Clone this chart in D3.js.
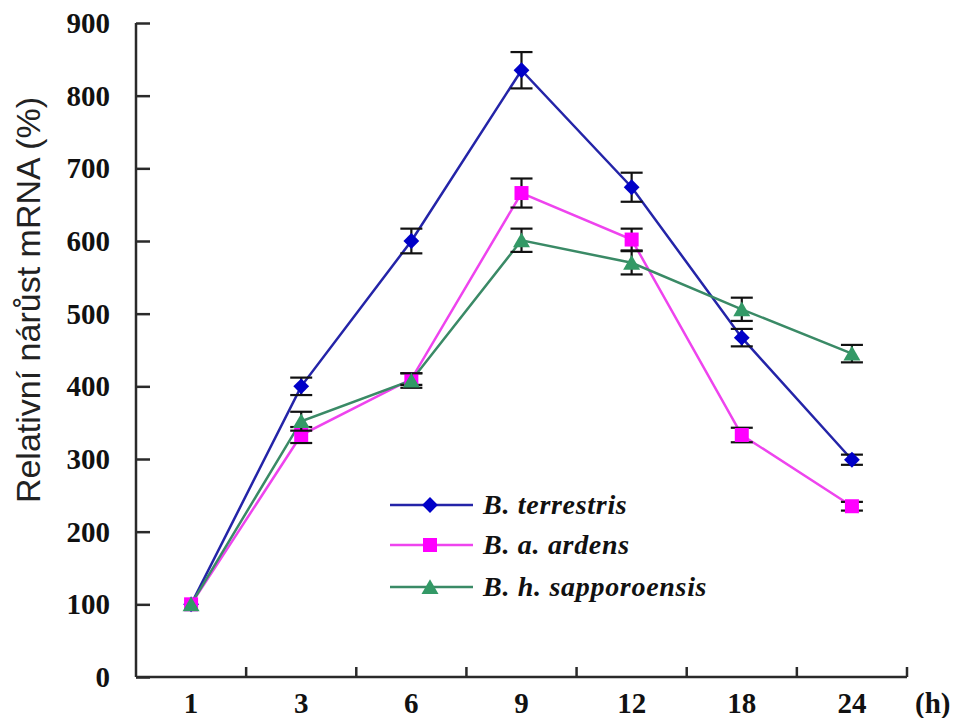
<!DOCTYPE html>
<html>
<head>
<meta charset="utf-8">
<script src="https://cdn.jsdelivr.net/npm/d3@7"></script>
<style>
  body { margin: 0; background: #fff; }
  svg { display: block; }
</style>
</head>
<body>
<div id="plot"></div>
<script>
// Time points (h)
const hours = ["1", "3", "6", "9", "12", "18", "24"];
const yTicks = [0, 100, 200, 300, 400, 500, 600, 700, 800, 900];

// Series values (relative mRNA increase, %)
const terrestris = [100, 400, 600, 835, 674, 467, 299];
const ardens = [100, 333, 410, 666, 602, 333, 235];
const sapporoensis = [100, 352, 408, 601, 570, 506, 445];

// Error bar half-lengths
const terrestrisErr = [0, 12, 17, 25, 20, 12, 7];
const ardensErr = [0, 11, 8, 20, 15, 10, 6];
const sapporoensisErr = [0, 13, 10, 16, 16, 16, 12];

const seriesNames = ["B. terrestris", "B. a. ardens", "B. h. sapporoensis"];

const series = [
    { name: seriesNames[0], values: terrestris, err: terrestrisErr, line: "#2424a8", fill: "#0000c8", shape: "diamond" },
    { name: seriesNames[1], values: ardens, err: ardensErr, line: "#ee44ee", fill: "#ff00ff", shape: "square" },
    { name: seriesNames[2], values: sapporoensis, err: sapporoensisErr, line: "#3a8a66", fill: "#339966", shape: "triangle" }
];

const w = 954;
const h = 718;
const svg = d3.select("#plot")
    .append("svg")
    .attr("width", w)
    .attr("height", h);

//Scales
const x = d3.scaleBand()
    .domain(hours)
    .range([136, 907])
    .padding(0);
const y = d3.scaleLinear()
    .domain([0, 900])
    .range([677, 23]);

const cx = (d) => x(d) + x.bandwidth() / 2;

//Marker shapes
const markerPath = (shape) => {
    if (shape === "diamond") return d3.symbol(d3.symbolSquare, 125)();
    if (shape === "square") return d3.symbol(d3.symbolSquare, 196)();
    return d3.symbol(d3.symbolTriangle, 125)();
};
const markerRotate = (shape) => shape === "diamond" ? " rotate(45)" : "";

//Y axis
const yAxis = svg.append("g")
    .attr("transform", "translate(136,0)")
    .call(d3.axisRight(y).tickValues(yTicks).tickSize(14).tickFormat(""));
yAxis.select(".domain").attr("d", "M0," + y(900) + "V" + y(0));
yAxis.selectAll("path, line").attr("stroke", "#2a2a2a").attr("stroke-width", 2.5);

svg.append("g")
    .selectAll("text")
    .data(yTicks)
    .enter()
    .append("text")
    .attr("x", 110)
    .attr("y", (d) => y(d) + 10)
    .attr("text-anchor", "end")
    .attr("font-family", "'Liberation Serif', 'Times New Roman', serif")
    .attr("font-weight", "bold")
    .attr("font-size", 29)
    .attr("fill", "#111")
    .text((d) => d);

//X axis with ticks at band boundaries
const xBoundaries = hours.slice(1).map((d) => x(d)).concat([x.range()[1]]);
const xAxis = svg.append("g");
xAxis.append("line")
    .attr("x1", 136).attr("x2", 907)
    .attr("y1", y(0)).attr("y2", y(0))
    .attr("stroke", "#2a2a2a").attr("stroke-width", 2.5);
xAxis.selectAll("line.tick")
    .data(xBoundaries)
    .enter()
    .append("line")
    .attr("class", "tick")
    .attr("x1", (d) => d).attr("x2", (d) => d)
    .attr("y1", y(0)).attr("y2", y(0) - 10)
    .attr("stroke", "#2a2a2a").attr("stroke-width", 2.5);

svg.append("g")
    .selectAll("text")
    .data(hours)
    .enter()
    .append("text")
    .attr("x", (d) => cx(d))
    .attr("y", 713)
    .attr("text-anchor", "middle")
    .attr("font-family", "'Liberation Serif', 'Times New Roman', serif")
    .attr("font-weight", "bold")
    .attr("font-size", 29)
    .attr("fill", "#111")
    .text((d) => d);

svg.append("text")
    .attr("x", 915)
    .attr("y", 713)
    .attr("font-family", "'Liberation Serif', 'Times New Roman', serif")
    .attr("font-weight", "bold")
    .attr("font-size", 29)
    .attr("fill", "#111")
    .text("(h)");

//Y axis title
svg.append("text")
    .attr("transform", "translate(40,300) rotate(-90)")
    .attr("text-anchor", "middle")
    .attr("font-family", "'Liberation Sans', Arial, sans-serif")
    .attr("font-size", 34)
    .attr("fill", "#222")
    .text("Relativní nárůst mRNA (%)");

//Lines
const line = d3.line()
    .x((d, i) => cx(hours[i]))
    .y((d) => y(d));

series.forEach((s) => {
    svg.append("path")
        .datum(s.values)
        .attr("fill", "none")
        .attr("stroke", s.line)
        .attr("stroke-width", 2.5)
        .attr("d", line);
});

//Error bars and markers
series.forEach((s) => {
    const g = svg.append("g");
    const pts = s.values.map((v, i) => ({ h: hours[i], v: v, e: s.err[i] }));
    const eb = g.selectAll("g.err")
        .data(pts.filter((d) => d.e > 0))
        .enter()
        .append("g")
        .attr("class", "err")
        .attr("stroke", "#111")
        .attr("stroke-width", 2.2);
    eb.append("line")
        .attr("x1", (d) => cx(d.h)).attr("x2", (d) => cx(d.h))
        .attr("y1", (d) => y(d.v + d.e)).attr("y2", (d) => y(d.v - d.e));
    eb.append("line")
        .attr("x1", (d) => cx(d.h) - 11).attr("x2", (d) => cx(d.h) + 11)
        .attr("y1", (d) => y(d.v + d.e)).attr("y2", (d) => y(d.v + d.e));
    eb.append("line")
        .attr("x1", (d) => cx(d.h) - 11).attr("x2", (d) => cx(d.h) + 11)
        .attr("y1", (d) => y(d.v - d.e)).attr("y2", (d) => y(d.v - d.e));

    g.selectAll("path.marker")
        .data(pts)
        .enter()
        .append("path")
        .attr("class", "marker")
        .attr("d", markerPath(s.shape))
        .attr("transform", (d) => "translate(" + cx(d.h) + "," + (y(d.v) + (s.shape === "triangle" ? 2 : 0)) + ")" + markerRotate(s.shape))
        .attr("fill", s.fill);
});

//Legend
const legend = svg.append("g")
    .selectAll("g")
    .data(series)
    .enter()
    .append("g")
    .attr("transform", (d, i) => "translate(390," + [505, 545, 587][i] + ")");
legend.append("line")
    .attr("x1", 0).attr("x2", 83)
    .attr("stroke", (d) => d.line)
    .attr("stroke-width", 2.5);
legend.append("path")
    .attr("d", (d) => markerPath(d.shape))
    .attr("transform", (d) => "translate(40," + (d.shape === "triangle" ? 2 : 0) + ")" + markerRotate(d.shape))
    .attr("fill", (d) => d.fill);
legend.append("text")
    .attr("x", 93)
    .attr("y", 9)
    .attr("font-family", "'Liberation Serif', 'Times New Roman', serif")
    .attr("font-weight", "bold")
    .attr("font-style", "italic")
    .attr("font-size", 28)
    .attr("letter-spacing", 0.7)
    .attr("fill", "#111")
    .text((d) => d.name);
</script>
</body>
</html>
